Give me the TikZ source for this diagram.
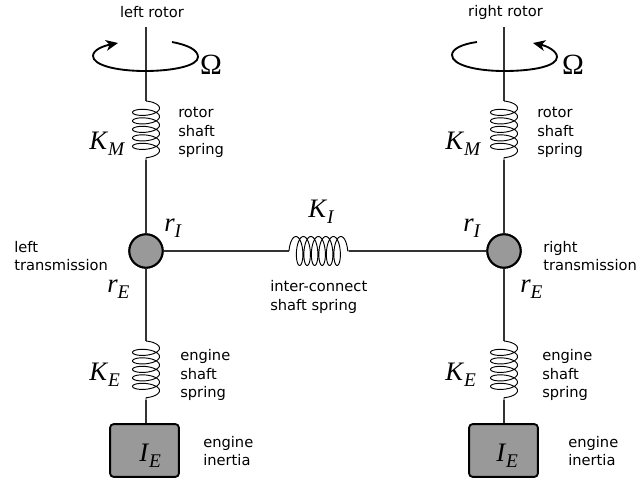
\documentclass[tikz,border=0pt]{standalone}
\usepackage{fontspec}
\setmainfont{DejaVu Sans}
\newfontfamily\mathserif{Liberation Serif}
\usetikzlibrary{arrows.meta}
\tikzset{
  shaft/.style={line width=0.9pt,black!80},
  coilline/.style={line width=0.7pt,black,line join=round},
  hub/.style={circle,draw=black,fill=black!40,line width=1.5pt,minimum size=25pt,inner sep=0pt},
  inertia/.style={draw=black,fill=black!40,rounded corners=2.5pt,line width=1.4pt,minimum width=51.5pt,minimum height=39.5pt,inner sep=0pt},
  spin/.style={line width=1.4pt,black},
  spintip/.style={-{Stealth[length=9pt,width=8pt,inset=2.5pt]}},
  txt/.style={font=\fontsize{11}{13.9}\selectfont,inner sep=0pt,align=left},
  sym/.style={font=\mathserif\fontsize{20}{22}\selectfont,inner sep=0pt},
  omega/.style={font=\mathserif\fontsize{22}{24}\selectfont,inner sep=0pt},
}
\newcommand{\Ksym}[2]{\textit{#1}\raisebox{-0.25em}{\fontsize{14.5}{16}\selectfont\textit{#2}}}
\newcommand{\vhelix}[2]{%
  \draw[coilline,shift={(#1)}] plot[samples=240,domain=0:1980,variable=\t]
    ({13.5*sin(\t)},{5+\t/42.35-5*cos(\t)}) -- (#2);}
\newcommand{\hhelix}[2]{%
  \draw[coilline,shift={(#1)}] plot[samples=260,domain=0:2340,variable=\t]
    ({5+\t/48-5*cos(\t)},{-14.5*sin(\t)}) -- (#2);}
\begin{document}
\begin{tikzpicture}[x=0.75pt,y=-0.75pt]
\useasboundingbox (0,0) rectangle (636,479);
\node[hub] (hl) at (146,251) {};
\node[hub] (hr) at (504,251) {};
\node[inertia] (bl) at (144.5,450.5) {};
\node[inertia] (br) at (503.5,450.5) {};
\coordinate (tl) at (146,27);
\coordinate (tr) at (504,27);
\coordinate (sl1) at (146,101);
\coordinate (sl2) at (146,160);
\coordinate (sr1) at (504,101);
\coordinate (sr2) at (504,160);
\coordinate (el1) at (146,341);
\coordinate (el2) at (146,400);
\coordinate (er1) at (504,341);
\coordinate (er2) at (504,400);
\coordinate (il) at (289,251);
\coordinate (ir) at (349,251);
\draw[shaft] (tl) -- (sl1);
\vhelix{sl1}{sl2}
\draw[shaft] (sl2) -- (hl);
\draw[shaft] (hl) -- (el1);
\vhelix{el1}{el2}
\draw[shaft] (el2) -- (el2 |- bl.north);
\draw[shaft] (tr) -- (sr1);
\vhelix{sr1}{sr2}
\draw[shaft] (sr2) -- (hr);
\draw[shaft] (hr) -- (er1);
\vhelix{er1}{er2}
\draw[shaft] (er2) -- (er2 |- br.north);
\draw[shaft] (hl) -- (il);
\hhelix{il}{ir}
\draw[shaft] (ir) -- (hr);
\node[hub] at (hl) {};
\node[hub] at (hr) {};
% rotation arrows
\draw[spin,spintip] (172,42) .. controls (188,45) and (198,50) .. (198,57)
  .. controls (198,66) and (172,71) .. (145,71)
  .. controls (116,71) and (93,65) .. (93,56)
  .. controls (93,50) and (103,46) .. (118,43);
\draw[spin,spintip] (477,42) .. controls (462,44) and (452,49) .. (452,55)
  .. controls (452,65) and (476,71) .. (504,71)
  .. controls (534,71) and (557,66) .. (557,57)
  .. controls (557,51) and (547,46) .. (533,43);
% labels
\node[txt,anchor=center] (t1) at (152,12.5) {left rotor};
\node[txt,anchor=center] (t2) at (505.5,12.5) {right rotor};
\node[omega] (om1) at (211,65) {Ω};
\node[omega] (om2) at (573,65) {Ω};
\node[sym,anchor=base west] (k1) at (89,149) {\Ksym{K}{M}};
\node[sym,anchor=base west] (k2) at (445,149) {\Ksym{K}{M}};
\node[txt,anchor=west] (t3) at (178,132.5) {rotor\\shaft\\spring};
\node[txt,anchor=west] (t4) at (537,132.5) {rotor\\shaft\\spring};
\node[sym,anchor=base west] (r1) at (164,231) {\Ksym{r}{I}};
\node[sym,anchor=base west] (r2) at (463,231) {\Ksym{r}{I}};
\node[sym,anchor=base west] (r3) at (107,292) {\Ksym{r}{E}};
\node[sym,anchor=base west] (r4) at (520,292) {\Ksym{r}{E}};
\node[sym,anchor=base west] (k3) at (308,217) {\Ksym{K}{I}};
\node[txt,anchor=west] (t5) at (270,297) {inter-connect\\shaft spring};
\node[txt,anchor=west] (t6) at (14,256) {left\\transmission};
\node[txt,anchor=west] (t7) at (543,256) {right\\transmission};
\node[sym,anchor=base west] (k4) at (89,380) {\Ksym{K}{E}};
\node[sym,anchor=base west] (k5) at (445,380) {\Ksym{K}{E}};
\node[txt,anchor=west] (t8) at (180,375) {engine\\shaft\\spring};
\node[txt,anchor=west] (t9) at (542,375) {engine\\shaft\\spring};
\node[sym,anchor=base west] at (139,461) {\Ksym{I}{E}};
\node[sym,anchor=base west] at (496,461) {\Ksym{I}{E}};
\node[txt,anchor=west] (t10) at (203,451) {engine\\inertia};
\node[txt,anchor=west] (t11) at (568,451) {engine\\inertia};
\end{tikzpicture}
\end{document}
